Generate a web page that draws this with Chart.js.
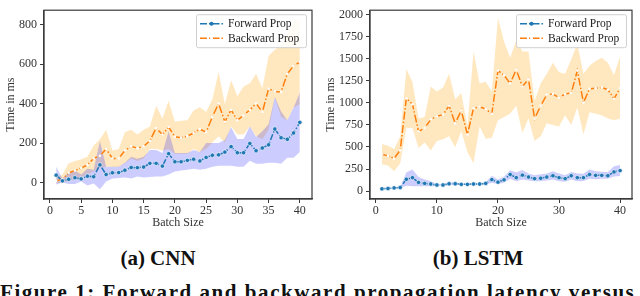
<!DOCTYPE html>
<html>
<head>
<meta charset="utf-8">
<script src="https://cdn.jsdelivr.net/npm/chart.js@4.4.1/dist/chart.umd.min.js"></script>
<style>
  html, body { margin: 0; padding: 0; background: #fff; }
  body { width: 640px; height: 296px; position: relative; overflow: hidden; }
  .plot { position: absolute; top: 0; width: 320px; height: 230px; }
  .cap { position: absolute; font-family: "Liberation Serif", serif; font-weight: bold; font-size: 20px; color: #111; white-space: nowrap; }
</style>
</head>
<body>
<div class="plot" style="left:0"><canvas id="cnnChart" width="320" height="230"></canvas></div>
<div class="plot" style="left:320px"><canvas id="lstmChart" width="320" height="230"></canvas></div>
<div class="cap" style="left:158px; top:246px; transform:translateX(-50%); font-size:21px">(a) CNN</div>
<div class="cap" style="left:478px; top:246px; transform:translateX(-50%); font-size:21px">(b) LSTM</div>
<div class="cap" style="left:0; top:280px; font-size:21px; letter-spacing:1.55px">Figure 1: Forward and backward propagation latency versus</div>

<script>
const batchSizes = [1, 2, 3, 4, 5, 6, 7, 8, 9, 10, 11, 12, 13, 14, 15, 16, 17, 18, 19, 20,
    21, 22, 23, 24, 25, 26, 27, 28, 29, 30, 31, 32, 33, 34, 35, 36, 37, 38, 39, 40];

// CNN (ms)
const cnnForward = [37, 8, 16, 24, 18, 32, 29, 89, 40, 49, 50, 62, 76, 75, 78, 97, 97, 83, 146, 105,
    105, 112, 118, 109, 127, 138, 140, 154, 182, 151, 151, 198, 161, 175, 191, 271, 227, 219, 251, 305];
const cnnForwardLow = [-10, 0, -8, -8, 5, -15, -5, -35, 5, 20, 22, 25, 20, 30, 25, 28, 30, 30, 40, 55,
    60, 65, 70, 65, 70, 80, 85, 85, 85, 80, 80, 110, 95, 95, 100, 100, 95, 125, 125, 155];
const cnnForwardHigh = [80, 20, 50, 60, 40, 70, 65, 210, 80, 80, 80, 100, 130, 120, 130, 165, 165, 150, 260, 150,
    150, 150, 165, 155, 200, 200, 200, 215, 280, 220, 220, 285, 230, 260, 295, 435, 360, 315, 380, 455];
const cnnBackward = [8, 16, 49, 60, 73, 89, 122, 135, 170, 122, 122, 162, 183, 174, 183, 211, 276, 243, 281, 232,
    227, 235, 251, 271, 255, 333, 401, 308, 368, 316, 341, 368, 401, 357, 475, 462, 459, 551, 592, 611];
const cnnBackwardLow = [-5, 0, 8, 16, 24, 40, 57, 73, 81, 78, 78, 97, 122, 109, 122, 170, 170, 162, 170, 146,
    146, 146, 170, 154, 170, 203, 235, 203, 284, 243, 243, 284, 235, 219, 268, 430, 333, 316, 381, 397];
const cnnBackwardHigh = [24, 40, 97, 109, 118, 130, 187, 219, 268, 162, 170, 255, 268, 243, 268, 284, 389, 324, 414, 308,
    313, 316, 365, 381, 357, 422, 560, 397, 519, 438, 487, 503, 551, 478, 641, 673, 697, 754, 811, 827];

// LSTM (ms)
const lstmForward = [25, 29, 36, 40, 134, 152, 98, 87, 80, 69, 69, 83, 83, 76, 76, 80, 80, 87, 130, 101,
    127, 188, 152, 181, 159, 141, 145, 159, 174, 152, 141, 174, 152, 152, 188, 178, 178, 174, 217, 232];
const lstmForwardLow = [20, 24, 30, 34, 60, 55, 55, 55, 55, 58, 60, 70, 70, 68, 68, 70, 70, 75, 95, 80,
    95, 140, 110, 130, 120, 110, 110, 120, 130, 110, 105, 130, 110, 115, 140, 135, 140, 140, 165, 170];
const lstmForwardHigh = [30, 34, 42, 46, 210, 245, 160, 130, 110, 80, 80, 100, 100, 85, 85, 90, 90, 100, 175, 130,
    165, 235, 210, 240, 200, 180, 190, 200, 225, 200, 180, 215, 200, 195, 245, 225, 220, 215, 280, 295];
const lstmBackward = [417, 399, 370, 464, 1051, 985, 677, 714, 812, 848, 866, 967, 768, 913, 641, 938, 956, 931, 877, 1366,
    1312, 1221, 1377, 1185, 1268, 822, 967, 1094, 1101, 1058, 1101, 1112, 1366, 1004, 1159, 1167, 1174, 1149, 1047, 1167];
const lstmBackwardLow = [304, 290, 225, 315, 714, 714, 489, 551, 460, 569, 587, 623, 496, 677, 442, 315, 732, 594, 605, 804,
    840, 877, 967, 659, 822, 569, 623, 768, 750, 732, 859, 750, 949, 641, 895, 877, 859, 822, 804, 822];
const lstmBackwardHigh = [533, 514, 478, 623, 1384, 1239, 822, 840, 1185, 1130, 1174, 1330, 1040, 1112, 732, 1583, 1221, 1239, 1130, 1964,
    1692, 1511, 1710, 1583, 1583, 1022, 1221, 1330, 1456, 1348, 1330, 1493, 1674, 1330, 1420, 1475, 1511, 1456, 1312, 1529];

const cnnXTicks = [0, 5, 10, 15, 20, 25, 30, 35, 40];
const cnnYTicks = [0, 200, 400, 600, 800];
const lstmXTicks = [0, 10, 20, 30, 40];
const lstmYTicks = [0, 250, 500, 750, 1000, 1250, 1500, 1750, 2000];

const legendLabels = ['Forward Prop', 'Backward Prop'];

const BLUE = '#1f77b4';
const ORANGE = '#ff7f0e';
const SPINE = '#3a3a3a';
const SERIF = '"Liberation Serif", "Times New Roman", serif';

function pts(ys) {
    return batchSizes.map((b, i) => ({ x: b, y: ys[i] }));
}

// frame on all four sides + matplotlib style legend
const frameAndLegend = {
    id: 'frameAndLegend',
    afterDraw(chart) {
        const { ctx, chartArea: a } = chart;
        ctx.save();
        ctx.strokeStyle = SPINE;
        ctx.lineWidth = 1.2;
        ctx.strokeRect(a.left, a.top, a.right - a.left, a.bottom - a.top);

        const w = 110, h = 33;
        const bx = a.right - 6 - w, by = a.top + 4;
        ctx.fillStyle = 'rgba(255,255,255,0.85)';
        ctx.strokeStyle = '#d0d0d0';
        ctx.lineWidth = 1;
        ctx.beginPath();
        ctx.roundRect(bx + 0.5, by + 0.5, w, h, 2);
        ctx.fill();
        ctx.stroke();

        const rows = [
            { y: by + 9.5, color: BLUE, marker: BLUE, r: 2 },
            { y: by + 24, color: ORANGE, marker: '#fff', r: 1.3 }
        ];
        rows.forEach((row, i) => {
            ctx.strokeStyle = row.color;
            ctx.lineWidth = 1.5;
            ctx.setLineDash([7, 2, 1.5, 2]);
            ctx.beginPath();
            ctx.moveTo(bx + 4, row.y);
            ctx.lineTo(bx + 27, row.y);
            ctx.stroke();
            ctx.setLineDash([]);
            ctx.fillStyle = row.marker;
            ctx.beginPath();
            ctx.arc(bx + 15.5, row.y, row.r, 0, Math.PI * 2);
            ctx.fill();
            ctx.fillStyle = '#222';
            ctx.font = '11.5px ' + SERIF;
            ctx.textBaseline = 'middle';
            ctx.fillText(legendLabels[i], bx + 32, row.y + 0.5);
        });
        ctx.restore();
    }
};

function makeChart(id, d) {
    const ctx = document.getElementById(id).getContext('2d');
    return new Chart(ctx, {
        type: 'line',
        data: {
            datasets: [
                { data: pts(d.bLow), borderWidth: 0, pointRadius: 0, fill: false, order: 5 },
                { data: pts(d.bHigh), borderWidth: 0, pointRadius: 0, fill: 0,
                  backgroundColor: 'rgba(255,165,0,0.25)', order: 4 },
                { data: pts(d.fLow), borderWidth: 0, pointRadius: 0, fill: false, order: 3 },
                { data: pts(d.fHigh), borderWidth: 0, pointRadius: 0, fill: 2,
                  backgroundColor: 'rgba(0,0,255,0.2)', order: 2 },
                { label: legendLabels[1], data: pts(d.back), borderColor: ORANGE, borderWidth: 1.5,
                  borderDash: [8, 2, 1.5, 2], fill: false, tension: 0,
                  pointRadius: 1.3, pointBackgroundColor: '#fff', pointBorderWidth: 0, order: 1 },
                { label: legendLabels[0], data: pts(d.fwd), borderColor: BLUE, borderWidth: 1.5,
                  borderDash: [6, 2, 1.5, 2], fill: false, tension: 0,
                  pointRadius: 2.2, pointBackgroundColor: BLUE, pointBorderColor: '#fff',
                  pointBorderWidth: 0.6, order: 0 }
            ]
        },
        options: {
            responsive: false,
            animation: false,
            layout: { padding: { top: 2, right: 8, left: 0, bottom: 0 } },
            plugins: { legend: { display: false }, tooltip: { enabled: false } },
            scales: {
                x: {
                    type: 'linear',
                    min: -0.95, max: 41.95,
                    afterBuildTicks: ax => { ax.ticks = d.xTicks.map(v => ({ value: v })); },
                    afterFit: s => { s.height = 31; },
                    ticks: { font: { family: SERIF, size: 12 }, color: '#333', padding: 1, maxRotation: 0,
                             callback: v => String(v) },
                    grid: { drawOnChartArea: false, tickLength: 4, color: SPINE, tickWidth: 1 },
                    border: { color: SPINE, width: 1.2 },
                    title: { display: true, text: 'Batch Size', color: '#333',
                             font: { family: SERIF, size: 12 }, padding: { top: 2, bottom: 0 } }
                },
                y: {
                    min: d.yMin, max: d.yMax,
                    afterBuildTicks: ax => { ax.ticks = d.yTicks.map(v => ({ value: v })); },
                    afterFit: s => { s.width = d.yWidth; },
                    ticks: { font: { family: SERIF, size: 12 }, color: '#333', padding: 3,
                             callback: v => String(v) },
                    grid: { drawOnChartArea: false, tickLength: 4, color: SPINE, tickWidth: 1 },
                    border: { color: SPINE, width: 1.2 },
                    title: { display: true, text: 'Time in ms', color: '#333',
                             font: { family: SERIF, size: 12 }, padding: { top: 4, bottom: 0 } }
                }
            }
        },
        plugins: [frameAndLegend]
    });
}

makeChart('cnnChart', {
    fwd: cnnForward, fLow: cnnForwardLow, fHigh: cnnForwardHigh,
    back: cnnBackward, bLow: cnnBackwardLow, bHigh: cnnBackwardHigh,
    xTicks: cnnXTicks, yTicks: cnnYTicks, yMin: -84, yMax: 874, yWidth: 44
});
makeChart('lstmChart', {
    fwd: lstmForward, fLow: lstmForwardLow, fHigh: lstmForwardHigh,
    back: lstmBackward, bLow: lstmBackwardLow, bHigh: lstmBackwardHigh,
    xTicks: lstmXTicks, yTicks: lstmYTicks, yMin: -90, yMax: 2051, yWidth: 50
});
</script>
</body>
</html>
